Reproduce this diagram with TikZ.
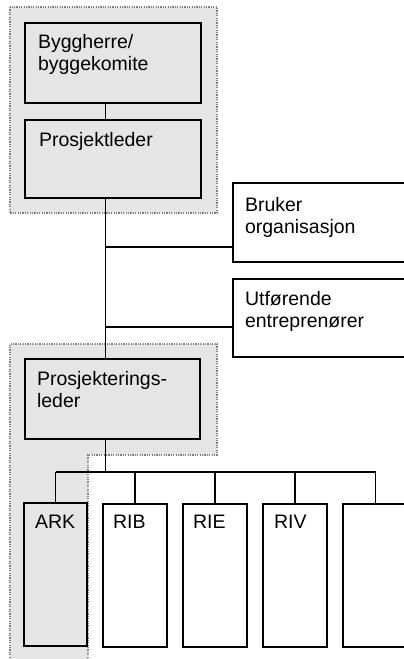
\documentclass[tikz,border=0pt]{standalone}
\usepackage{fontspec}
\setmainfont{Liberation Sans}
\begin{document}
\begin{tikzpicture}[x=1pt,y=-1pt,
  every node/.style={inner sep=0pt, outer sep=0pt},
  box/.style={draw=black, line width=1.6pt, anchor=north west},
  lbl/.style={font=\fontsize{19.5pt}{22.5pt}\selectfont, align=left, anchor=north west},
  link/.style={draw=black, line width=1.8pt},
  regfill/.style={fill=black!10},
  regline/.style={draw=black!50, line width=1.4pt, dash pattern=on 1.2pt off 1.2pt}]
\useasboundingbox (0,0) rectangle (404,659);
% grey regions
\fill[regfill] (10,7) rectangle (217,213);
\draw[regline] (10,7) rectangle (217,213);
\fill[regfill] (10,344) -- (217,344) -- (217,455) -- (88,455) -- (88,665) -- (10,665) -- cycle;
\draw[regline] (10,665) -- (10,344) -- (217,344) -- (217,455) -- (88,455) -- (88,665);
% boxes
\node[box, minimum width=176pt, minimum height=80pt] (bh) at (25,23) {};
\node[box, minimum width=176pt, minimum height=78pt] (pl) at (25,120) {};
\node[box, minimum width=180pt, minimum height=79pt] (bruk) at (233,183) {};
\node[box, minimum width=180pt, minimum height=78pt] (utf) at (233,279) {};
\node[box, minimum width=175pt, minimum height=80pt] (pjl) at (25,359) {};
\node[box, minimum width=63pt, minimum height=143pt] (ark) at (24,503) {};
\node[box, minimum width=64pt, minimum height=143pt] (rib) at (103,504) {};
\node[box, minimum width=64pt, minimum height=143pt] (rie) at (183,504) {};
\node[box, minimum width=64pt, minimum height=143pt] (riv) at (263,504) {};
\node[box, minimum width=65pt, minimum height=143pt] (ext) at (343,504) {};
% texts
\node[lbl] (tbh) at (38,32.6) {\strut Byggherre/\\byggekomite};
\node[lbl] (tpl) at (39,130.6) {\strut Prosjektleder};
\node[lbl] (tbruk) at (245,195.6) {\strut Bruker\\organisasjon};
\node[lbl] (tutf) at (245,289.6) {\strut Utførende\\entreprenører};
\node[lbl] (tpjl) at (37,369.6) {\strut Prosjekterings-\\leder};
\node[lbl] (tark) at (35,512.6) {\strut ARK};
\node[lbl] (trib) at (113,512.6) {\strut RIB};
\node[lbl] (trie) at (193,512.6) {\strut RIE};
\node[lbl] (triv) at (274,512.6) {\strut RIV};
% connectors
\coordinate (spine) at (105.5,0);
\coordinate (br1) at (105.5,247);
\coordinate (br2) at (105.5,327);
\coordinate (bus) at (0,472);
\draw[link] (bh.south -| spine) -- (pl.north -| spine);
\draw[link] (pl.south -| spine) -- (pjl.north -| spine);
\draw[link] (br1) -- (br1 -| bruk.west);
\draw[link] (br2) -- (br2 -| utf.west);
\draw[link] (pjl.south -| spine) -- (spine |- bus);
\draw[link] (ark.north |- bus) -- (ext.north |- bus);
\foreach \b in {ark,rib,rie,riv,ext}
  \draw[link] (\b.north |- bus) -- (\b.north);
\end{tikzpicture}
\end{document}
